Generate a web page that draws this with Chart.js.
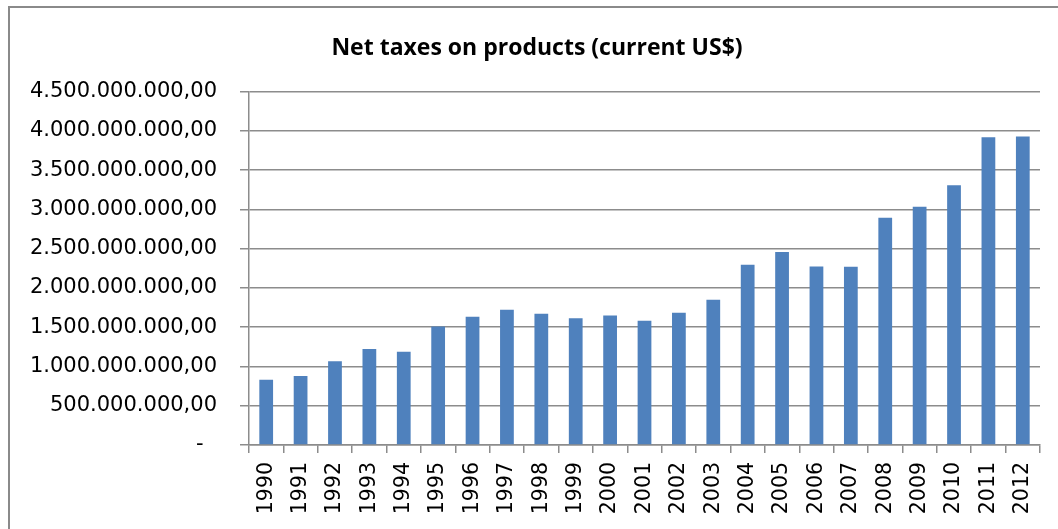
<!DOCTYPE html>
<html>
<head>
<meta charset="utf-8">
<script src="https://cdn.jsdelivr.net/npm/chart.js@4.4.0/dist/chart.umd.min.js"></script>
<style>
  body { margin: 0; background: #fff; overflow: hidden; }
  #frame { position: absolute; left: 8px; top: 6px; width: 1100px; height: 600px; border: 2px solid #8a8a8a; }
  #line-chart { position: absolute; left: 0; top: 0; }
</style>
</head>
<body>
<div id="frame"></div>
<canvas id="line-chart" width="1058" height="529"></canvas>
<script>
// years on the x axis
const years = ['1990','1991','1992','1993','1994','1995','1996','1997','1998','1999','2000','2001',
               '2002','2003','2004','2005','2006','2007','2008','2009','2010','2011','2012'];

// net taxes on products, current US$
const netTaxes = [830e6, 880e6, 1067e6, 1224e6, 1186e6, 1508e6, 1632e6, 1721e6, 1670e6, 1615e6, 1649e6, 1581e6,
                  1683e6, 1849e6, 2295e6, 2456e6, 2273e6, 2269e6, 2894e6, 3034e6, 3306e6, 3918e6, 3927e6];

const yMax = 4.5e9;
const yStep = 5e8;

// 4.500.000.000,00 style, zero shown as a dash
let formatValue = function(v){
    if(v === 0) return '-  ';
    let s = Math.round(v).toString().replace(/\B(?=(\d{3})+(?!\d))/g, '.');
    return s + ',00';
}

const gridGrey = '#8c8c8c';

// the title sits a bit right of the canvas centre in the original
const shiftTitle = {
    id: 'shiftTitle',
    afterLayout: function(chart){
        if(chart.titleBlock) chart.titleBlock.left = 34;
    }
};

const config = {
    type: 'bar',
    data: {
        labels: years,
        datasets: [{
            label: 'Net taxes on products (current US$)',
            data: netTaxes,
            backgroundColor: '#4f81bd',
            borderWidth: 0,
            barPercentage: 0.4,
            categoryPercentage: 1
        }]
    },
    options: {
        responsive: false,
        animation: false,
        layout: { padding: { left: 0, right: 18, top: 0, bottom: 0 } },
        plugins: {
            legend: { display: false },
            tooltip: { enabled: false },
            title: {
                display: true,
                text: 'Net taxes on products (current US$)',
                color: '#000',
                font: { family: '"Open Sans"', size: 23, weight: 'bold', lineHeight: 1.2 },
                padding: { top: 35, bottom: 29 }
            }
        },
        scales: {
            x: {
                grid: {
                    display: true,
                    drawOnChartArea: false,
                    offset: true,
                    tickLength: 8,
                    color: gridGrey,
                    lineWidth: 1.5
                },
                border: { display: true, color: gridGrey, width: 1.5 },
                ticks: {
                    color: '#000',
                    font: { family: '"DejaVu Sans"', size: 20.5 },
                    minRotation: 90,
                    maxRotation: 90,
                    padding: 9,
                    autoSkip: false
                },
                afterFit: function(scale){ scale.height = 84; }
            },
            y: {
                min: 0,
                max: yMax,
                ticks: {
                    stepSize: yStep,
                    color: '#000',
                    font: { family: '"DejaVu Sans"', size: 21 },
                    padding: 23,
                    callback: function(value){ return formatValue(value); }
                },
                grid: {
                    color: gridGrey,
                    lineWidth: 1.5,
                    tickLength: 9
                },
                border: { display: true, color: gridGrey, width: 1.5 },
                afterFit: function(scale){ scale.width = 249; }
            }
        }
    },
    plugins: [shiftTitle]
};

let myChart = new Chart(document.querySelector('#line-chart'), config);
</script>
</body>
</html>
